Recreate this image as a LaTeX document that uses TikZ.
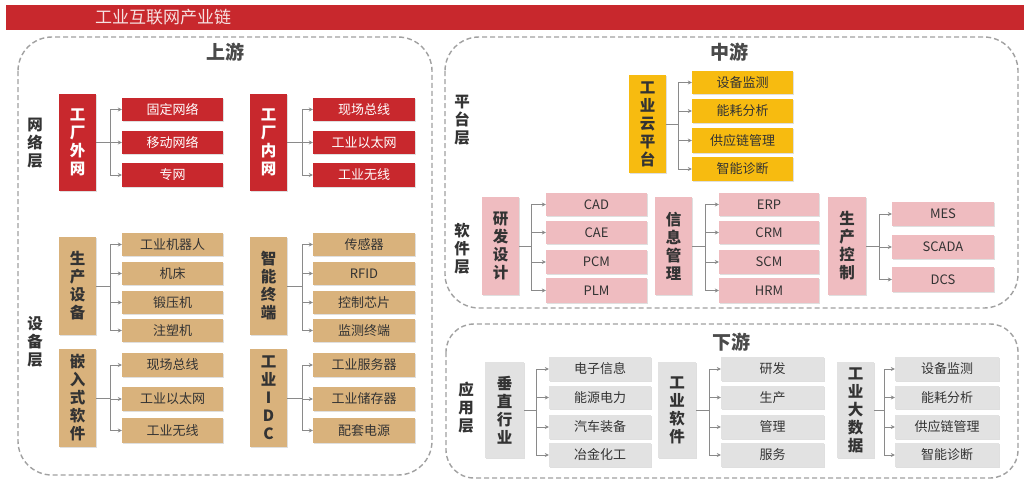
\documentclass[tikz,border=0pt]{standalone}
\usepackage{fontspec}
\setmainfont{Noto Sans CJK SC}
\usetikzlibrary{arrows.meta,shadows}
\definecolor{bred}{HTML}{C8282D}
\definecolor{btan}{HTML}{D9B27C}
\definecolor{byel}{HTML}{F7BB10}
\definecolor{bpnk}{HTML}{EFBCC0}
\definecolor{bgry}{HTML}{E2E2E2}
\definecolor{lnc}{HTML}{8A8A8A}
\definecolor{dtx}{HTML}{333333}
\definecolor{ttl}{HTML}{4A4A4A}
\definecolor{btitle}{HTML}{F6E2E2}
\tikzset{
  base/.style={inner sep=0pt, drop shadow={opacity=0.25,shadow xshift=0.8pt,shadow yshift=-0.8pt}},
  pk/.style={base, font=\bfseries\fontsize{15.5}{18}\selectfont, align=center},
  ck/.style={base, font=\fontsize{13}{15}\selectfont},
  redP/.style={pk, fill=bred, text=white},
  redK/.style={ck, fill=bred, text=white},
  tanP/.style={pk, fill=btan, text=dtx},
  tanK/.style={ck, fill=btan, text=dtx},
  yelP/.style={pk, fill=byel, text=dtx},
  yelK/.style={ck, fill=byel, text=dtx},
  pnkP/.style={pk, fill=bpnk, text=dtx},
  pnkK/.style={ck, fill=bpnk, text=dtx},
  gryP/.style={pk, fill=bgry, text=dtx},
  gryK/.style={ck, fill=bgry, text=dtx},
  conn/.style={draw=lnc, line width=1pt},
  arr/.style={conn, -{Stealth[length=4pt,width=4pt]}},
  zone/.style={draw=lnc!80, line width=1.4pt, dash pattern=on 5pt off 3pt, rounded corners=34pt},
  layer/.style={font=\bfseries\fontsize{15.5}{18}\selectfont, text=dtx, align=center},
  zt/.style={font=\bfseries\fontsize{19}{22}\selectfont, text=ttl},
}
\newcommand\bx[7]{\node[#2, minimum width={(#5-#3)*1pt}, minimum height={(#6-#4)*1pt}] (#1) at ({(#3+#5)/2},{(#4+#6)/2}) {#7};}
\newcommand\lnk[3]{%
  \coordinate (#1t) at (#1.east -| #2,0);
  \draw[conn] (#1.east) -- (#1t);
  \foreach \c in {#3} {\draw[arr] (#1t) |- (\c.west);}
}
\begin{document}
\begin{tikzpicture}[x=1pt,y=-1pt]
\useasboundingbox (0,0) rectangle (1024,487);
\fill[white] (0,0) rectangle (1024,487);
% banner
\fill[bred] (6,5) rectangle (1024,30);
\node[font=\fontsize{17}{19}\selectfont, text=btitle] (title) at (163,17.5) {工业互联网产业链};
% zones
\draw[zone] (18,37) rectangle (432,475);
\draw[zone] (445,37) rectangle (1018,308);
\draw[zone, rounded corners=28pt] (446,324) rectangle (1018,478);
\node[zt] (up) at (225,52) {上游};
\node[zt] (mid) at (729,52) {中游};
\node[zt] (down) at (731,342) {下游};
% layer labels
\node[layer] (l1) at (35,143) {网\\络\\层};
\node[layer] (l2) at (35,342) {设\\备\\层};
\node[layer] (l3) at (462,120) {平\\台\\层};
\node[layer] (l4) at (462,249) {软\\件\\层};
\node[layer] (l5) at (466,408) {应\\用\\层};
% network layer
\bx{p1}{redP}{59}{94}{96}{191}{工\\厂\\外\\网}
\bx{c11}{redK}{122}{98}{223}{121}{固定网络}
\bx{c12}{redK}{122}{131}{223}{154}{移动网络}
\bx{c13}{redK}{122}{163}{223}{187}{专网}
\lnk{p1}{110}{c11,c12,c13}
\bx{p2}{redP}{250}{94}{287}{191}{工\\厂\\内\\网}
\bx{c21}{redK}{313}{98}{415}{121}{现场总线}
\bx{c22}{redK}{313}{131}{415}{154}{工业以太网}
\bx{c23}{redK}{313}{163}{415}{187}{工业无线}
\lnk{p2}{302}{c21,c22,c23}
% equipment layer
\bx{p3}{tanP}{59}{237}{96}{335}{生\\产\\设\\备}
\bx{c31}{tanK}{122}{233}{223}{256}{工业机器人}
\bx{c32}{tanK}{122}{262}{223}{285}{机床}
\bx{c33}{tanK}{122}{291}{223}{314}{锻压机}
\bx{c34}{tanK}{122}{319}{223}{342}{注塑机}
\lnk{p3}{110}{c31,c32,c33,c34}
\bx{p4}{tanP}{250}{237}{287}{335}{智\\能\\终\\端}
\bx{c41}{tanK}{313}{233}{415}{256}{传感器}
\bx{c42}{tanK}{313}{262}{415}{285}{RFID}
\bx{c43}{tanK}{313}{291}{415}{314}{控制芯片}
\bx{c44}{tanK}{313}{319}{415}{342}{监测终端}
\lnk{p4}{302}{c41,c42,c43,c44}
\bx{p5}{tanP}{59}{349}{96}{447}{嵌\\入\\式\\软\\件}
\bx{c51}{tanK}{122}{353}{223}{377}{现场总线}
\bx{c52}{tanK}{122}{387}{223}{411}{工业以太网}
\bx{c53}{tanK}{122}{418}{223}{443}{工业无线}
\lnk{p5}{110}{c51,c52,c53}
\bx{p6}{tanP}{250}{349}{287}{447}{工\\业\\I\\D\\C}
\bx{c61}{tanK}{313}{353}{415}{377}{工业服务器}
\bx{c62}{tanK}{313}{387}{415}{411}{工业储存器}
\bx{c63}{tanK}{313}{418}{415}{443}{配套电源}
\lnk{p6}{302}{c61,c62,c63}
% platform layer
\bx{p7}{yelP}{629}{75}{666}{173}{工\\业\\云\\平\\台}
\bx{c71}{yelK}{692}{71}{793}{94}{设备监测}
\bx{c72}{yelK}{692}{99}{793}{123}{能耗分析}
\bx{c73}{yelK}{692}{128}{793}{153}{供应链管理}
\bx{c74}{yelK}{692}{157}{793}{181}{智能诊断}
\lnk{p7}{678}{c71,c72,c73,c74}
% software layer
\bx{p8}{pnkP}{482}{197}{519}{295}{研\\发\\设\\计}
\bx{c81}{pnkK}{546}{193}{647}{216}{CAD}
\bx{c82}{pnkK}{546}{221}{647}{244}{CAE}
\bx{c83}{pnkK}{546}{250}{647}{274}{PCM}
\bx{c84}{pnkK}{546}{278}{647}{303}{PLM}
\lnk{p8}{531}{c81,c82,c83,c84}
\bx{p9}{pnkP}{655}{197}{692}{295}{信\\息\\管\\理}
\bx{c91}{pnkK}{719}{193}{819}{216}{ERP}
\bx{c92}{pnkK}{719}{221}{819}{244}{CRM}
\bx{c93}{pnkK}{719}{250}{819}{274}{SCM}
\bx{c94}{pnkK}{719}{278}{819}{303}{HRM}
\lnk{p9}{705}{c91,c92,c93,c94}
\bx{p10}{pnkP}{828}{197}{866}{295}{生\\产\\控\\制}
\bx{c101}{pnkK}{892}{202}{994}{226}{MES}
\bx{c102}{pnkK}{892}{235}{994}{259}{SCADA}
\bx{c103}{pnkK}{892}{267}{994}{292}{DCS}
\lnk{p10}{879}{c101,c102,c103}
% application layer
\bx{p11}{gryP}{485}{362}{524}{458}{垂\\直\\行\\业}
\bx{c111}{gryK}{549}{357}{651}{381}{电子信息}
\bx{c112}{gryK}{549}{386}{651}{409}{能源电力}
\bx{c113}{gryK}{549}{415}{651}{439}{汽车装备}
\bx{c114}{gryK}{549}{443}{651}{467}{冶金化工}
\lnk{p11}{536}{c111,c112,c113,c114}
\bx{p12}{gryP}{658}{362}{696}{458}{工\\业\\软\\件}
\bx{c121}{gryK}{721}{357}{824}{381}{研发}
\bx{c122}{gryK}{721}{386}{824}{409}{生产}
\bx{c123}{gryK}{721}{415}{824}{439}{管理}
\bx{c124}{gryK}{721}{443}{824}{467}{服务}
\lnk{p12}{709}{c121,c122,c123,c124}
\bx{p13}{gryP}{837}{362}{874}{458}{工\\业\\大\\数\\据}
\bx{c131}{gryK}{895}{357}{999}{381}{设备监测}
\bx{c132}{gryK}{895}{386}{999}{409}{能耗分析}
\bx{c133}{gryK}{895}{415}{999}{439}{供应链管理}
\bx{c134}{gryK}{895}{443}{999}{467}{智能诊断}
\lnk{p13}{884}{c131,c132,c133,c134}
\end{tikzpicture}
\end{document}
